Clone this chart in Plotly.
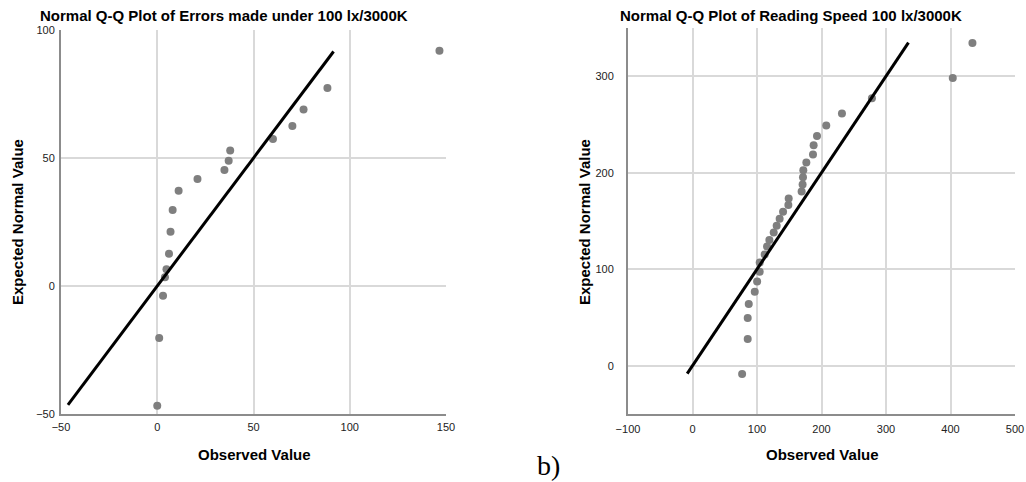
import plotly.graph_objects as go

W, H = 1026, 482

# ---- Data: left plot (Errors made under 100 lx/3000K) ----
err_observed = [0, 1, 3, 4, 4.8, 6.1, 6.9, 8.0, 11.1, 20.9, 34.9, 37.1, 37.9, 60.1, 70.2, 76.0, 88.4, 146.6]
err_expected = [-46.8, -20.3, -3.8, 3.4, 6.5, 12.6, 21.2, 29.7, 37.2, 41.8, 45.3, 48.9, 52.9, 57.4, 62.5, 68.9, 77.3, 91.9]
err_line = [-46.4, 91.6]

# ---- Data: right plot (Reading Speed 100 lx/3000K) ----
rs_observed = [76.9, 85.6, 85.6, 87.2, 96.5, 100.2, 104.2, 104.2, 111.9, 115.6, 119.2, 125.9,
               130.5, 135.1, 140.4, 148.6, 149.1, 169.2, 170.7, 171.3, 171.8, 176.5, 186.8,
               187.8, 193.0, 207.4, 231.7, 278.2, 403.5, 434.0]
rs_expected = [-8.6, 27.6, 49.5, 64.0, 76.7, 87.4, 97.3, 107.0, 115.3, 123.5, 130.3, 138.0,
               145.2, 152.4, 159.6, 166.5, 173.4, 180.6, 187.8, 195.4, 202.6, 210.5, 219.0,
               228.4, 238.0, 249.0, 261.4, 277.3, 298.2, 334.4]
rs_line = [-8.2, 334.8]

left_xticks = [-50, 0, 50, 100, 150]
left_yticks = [-50, 0, 50, 100]
right_xticks = [-100, 0, 100, 200, 300, 400, 500]
right_yticks = [0, 100, 200, 300]

MARK = "#7f7f7f"
GRID = "#d9d9d9"
AXL = "#8c8c8c"
FONT = "Liberation Sans, Arial, sans-serif"

fig = go.Figure()
fig.add_trace(go.Scatter(x=err_observed, y=err_expected, mode="markers",
                         marker=dict(color=MARK, size=8), xaxis="x", yaxis="y"))
fig.add_trace(go.Scatter(x=err_line, y=err_line, mode="lines",
                         line=dict(color="black", width=3), xaxis="x", yaxis="y"))
fig.add_trace(go.Scatter(x=rs_observed, y=rs_expected, mode="markers",
                         marker=dict(color=MARK, size=8), xaxis="x2", yaxis="y2"))
fig.add_trace(go.Scatter(x=rs_line, y=rs_line, mode="lines",
                         line=dict(color="black", width=3), xaxis="x2", yaxis="y2"))

def px(x):
    return x / W

def py(y):
    return 1 - y / H

axcommon = dict(showgrid=True, gridcolor=GRID, gridwidth=1.5, zeroline=False,
                showline=True, linecolor=AXL, linewidth=2, ticks="", automargin=False,
                tickfont=dict(family=FONT, size=11, color="#222"), fixedrange=True)

fig.update_layout(
    width=W, height=H, margin=dict(l=0, r=0, t=0, b=0),
    paper_bgcolor="white", plot_bgcolor="white", showlegend=False,
    xaxis=dict(domain=[px(61), px(446)], range=[-50, 150], tickvals=left_xticks,
               anchor="y", ticklabelstandoff=2, **axcommon),
    yaxis=dict(domain=[py(414), py(30)], range=[-50, 100], tickvals=left_yticks,
               anchor="x", ticklabelstandoff=2, **axcommon),
    xaxis2=dict(domain=[px(628), px(1015)], range=[-100, 500], tickvals=right_xticks,
                anchor="y2", ticklabelstandoff=4, **axcommon),
    yaxis2=dict(domain=[py(414), py(28)], range=[-50, 350], tickvals=right_yticks,
                anchor="x2", ticklabelstandoff=10, **axcommon),
)

ann = []
tfont = dict(family=FONT, size=15, color="black")
ann.append(dict(text="<b>Normal Q-Q Plot of Errors made under 100 lx/3000K</b>",
                x=px(224), y=py(15), xref="paper", yref="paper", showarrow=False,
                font=tfont, xanchor="center", yanchor="middle"))
ann.append(dict(text="<b>Normal Q-Q Plot of Reading Speed 100 lx/3000K</b>",
                x=px(791), y=py(15), xref="paper", yref="paper", showarrow=False,
                font=tfont, xanchor="center", yanchor="middle"))
ann.append(dict(text="<b>Observed Value</b>", x=px(254), y=py(454), xref="paper", yref="paper",
                showarrow=False, font=tfont, xanchor="center", yanchor="middle"))
ann.append(dict(text="<b>Observed Value</b>", x=px(822), y=py(454), xref="paper", yref="paper",
                showarrow=False, font=tfont, xanchor="center", yanchor="middle"))
ann.append(dict(text="<b>Expected Normal Value</b>", x=px(18), y=py(222), xref="paper", yref="paper",
                showarrow=False, font=tfont, textangle=-90, xanchor="center", yanchor="middle"))
ann.append(dict(text="<b>Expected Normal Value</b>", x=px(585), y=py(222), xref="paper", yref="paper",
                showarrow=False, font=tfont, textangle=-90, xanchor="center", yanchor="middle"))
ann.append(dict(text="b)", x=px(548), y=py(465), xref="paper", yref="paper", showarrow=False,
                font=dict(family="Liberation Serif, Times New Roman, serif", size=28, color="black"),
                xanchor="center", yanchor="middle"))
fig.update_layout(annotations=ann)

fig.write_html("out.html")
